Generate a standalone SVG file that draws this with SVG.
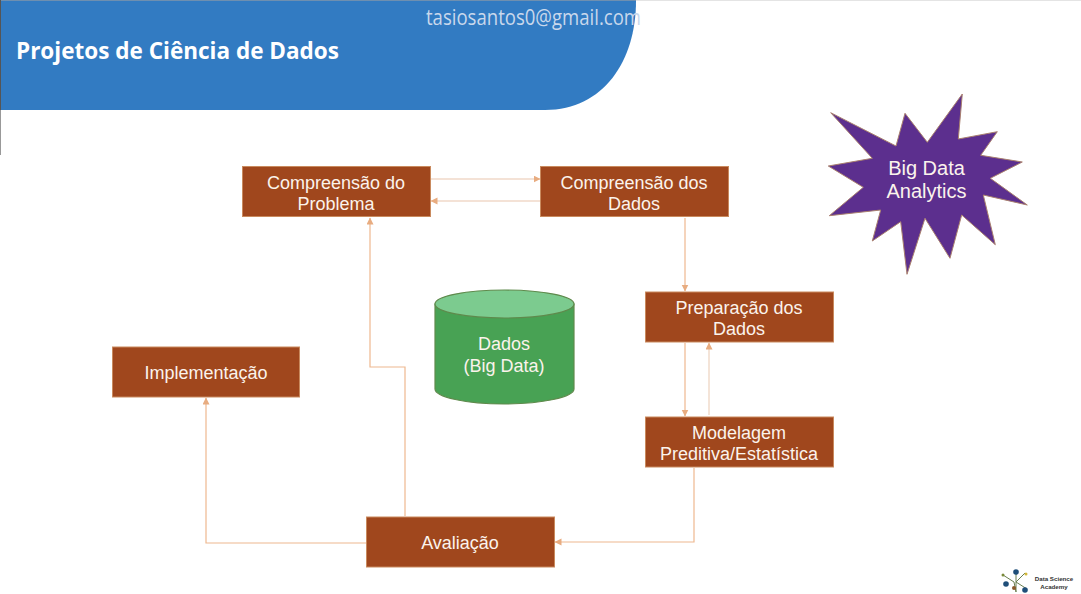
<svg xmlns="http://www.w3.org/2000/svg" width="1081" height="594" viewBox="0 0 1081 594">
<style>
.box{fill:#a0471d;stroke:#c98a5e;stroke-width:1}
.lbl{font-family:"Liberation Sans",Arial,sans-serif;font-size:18px;fill:#fbf3ec;text-anchor:middle}
.big{font-size:20px}
.c{fill:none;stroke:#eeb88f;stroke-width:1.2}
.c2{fill:none;stroke:#f0d9c8;stroke-width:1.4}
.logo{font-family:"Liberation Sans",sans-serif;font-size:6.200px;font-weight:700;fill:#333;text-anchor:middle}
</style>
<defs>
<marker id="a" markerWidth="8" markerHeight="8" refX="6.500" refY="3.500" orient="auto" markerUnits="userSpaceOnUse"><path d="M0 0L7 3.500L0 7Z" fill="#e8ac80"/></marker>
</defs>
<rect width="1081" height="594" fill="#fff"/>
<g id="header">
<path d="M1 1H636C636 60 604 110 545 110H1Z" fill="#327bc2"/>
<path d="M0 0H636" stroke="#3e6a96" stroke-width="1.500"/>
<path d="M636 0.500H1081" stroke="#e4e4e4" stroke-width="1"/>
<path d="M0.500 0V110" stroke="#555" stroke-width="1"/>
<path d="M0.500 110V155" stroke="#999" stroke-width="1"/>
<text x="16" y="59" font-family="'Open Sans','Noto Sans',sans-serif" font-size="24" font-weight="700" fill="#fff" textLength="323" lengthAdjust="spacingAndGlyphs">Projetos de Ciência de Dados</text>
<text x="426" y="25" font-family="'Open Sans','Noto Sans',sans-serif" font-size="21" fill="#c9d8ec" textLength="215" lengthAdjust="spacingAndGlyphs">tasiosantos0@gmail.com</text>
</g>
<g id="connectors">
<path class="c2" d="M431 179H540" marker-end="url(#a)"/>
<path class="c2" d="M540 201H431" marker-end="url(#a)"/>
<path class="c" d="M685 218V291" marker-end="url(#a)"/>
<path class="c" d="M685 343V416" marker-end="url(#a)"/>
<path class="c2" d="M709 415V343" marker-end="url(#a)"/>
<path class="c" d="M694 468V542H555" marker-end="url(#a)"/>
<path class="c" d="M405 516V367H370V218" marker-end="url(#a)"/>
<path class="c" d="M366 543H206V398" marker-end="url(#a)"/>
</g>
<g id="n-problema"><rect class="box" x="242.500" y="166.500" width="188" height="50"/><text class="lbl" x="336" y="188.500">Compreensão do</text><text class="lbl" x="336" y="209.500">Problema</text></g>
<g id="n-dados"><rect class="box" x="540.500" y="166.500" width="188" height="50"/><text class="lbl" x="634" y="188.500">Compreensão dos</text><text class="lbl" x="634" y="209.500">Dados</text></g>
<g id="n-preparacao"><rect class="box" x="645.500" y="292" width="188" height="50"/><text class="lbl" x="739" y="313.500">Preparação dos</text><text class="lbl" x="739" y="334.500">Dados</text></g>
<g id="n-modelagem"><rect class="box" x="645.500" y="417" width="188" height="50"/><text class="lbl" x="739" y="438.500">Modelagem</text><text class="lbl" x="739" y="459.500">Preditiva/Estatística</text></g>
<g id="n-implementacao"><rect class="box" x="112.500" y="347" width="187" height="50"/><text class="lbl" x="206" y="379">Implementação</text></g>
<g id="n-avaliacao"><rect class="box" x="366.500" y="517" width="188" height="50"/><text class="lbl" x="460" y="548.500">Avaliação</text></g>
<g id="n-bigdata">
<path d="M435 304V389C435 397 466 404 504 404S574 397 574 389V304Z" fill="#48a254" stroke="#5f8a4c" stroke-width="1.200"/>
<ellipse cx="504.500" cy="304" rx="69.500" ry="14" fill="#7ccb8f" stroke="#5f8a4c" stroke-width="1.200"/>
<text class="lbl" x="504" y="350">Dados</text><text class="lbl" x="504" y="372">(Big Data)</text>
</g>
<g id="n-analytics">
<path d="M830.700 112.700L896 146L905 113.300L927.300 142.300L962.300 94L958.300 139L997.300 131.700L980.700 155.300L1022.300 162L990.300 178.300L1027.300 205L983.300 195L995.300 244.700L961.700 215L950 258.300L925 218.300L907 274.300L900.700 221.700L872.300 241L880.700 210L829.300 215.700L863.300 187.300L828.300 166L872.300 158.300Z" fill="#5c2f8e" stroke="#a9806f" stroke-width="1"/>
<text class="lbl big" x="926.500" y="175">Big Data</text><text class="lbl big" x="926.500" y="198">Analytics</text>
</g>
<g id="logo">
<path d="M1003 575L1014 582L1016 592M1016 570V592M1027 589L1016 582L1025 573" fill="none" stroke="#6a7f50" stroke-width="1"/>
<circle cx="1016" cy="572" r="2.800" fill="#1f4e79"/><circle cx="1006" cy="584" r="2.800" fill="#1f4e79"/><circle cx="1025" cy="590" r="2.800" fill="#1f4e79"/><circle cx="1003" cy="575" r="1.500" fill="#7a8a3a"/><circle cx="1026" cy="574" r="1.500" fill="#d3b83a"/><circle cx="1014" cy="588" r="2" fill="#8a5a2a"/>
<text class="logo" x="1054" y="581">Data Science</text>
<text class="logo" x="1054" y="589">Academy</text>
</g>
</svg>
